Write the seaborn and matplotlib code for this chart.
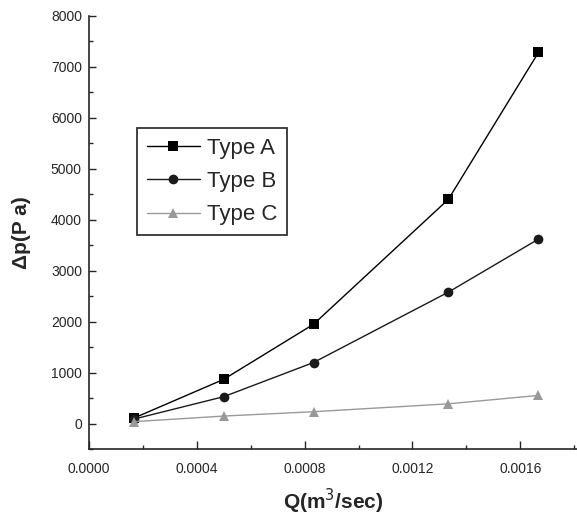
import numpy as np
import pandas as pd
import matplotlib
matplotlib.use('Agg')
import matplotlib.pyplot as plt
import seaborn as sns
from matplotlib.ticker import MultipleLocator, FormatStrFormatter

# 유량 (m^3/sec) 과 압력강하 (Pa)
flow = [0.0001667, 0.0005, 0.000833, 0.001333, 0.001667]
dp_a = [110, 870, 1950, 4400, 7280]
dp_b = [90, 530, 1200, 2580, 3620]
dp_c = [40, 150, 235, 390, 555]
types = ['Type A', 'Type B', 'Type C']

df = pd.DataFrame({
    'Q': flow * 3,
    'dp': dp_a + dp_b + dp_c,
    'type': [t for t in types for _ in flow],
})

sns.set_style('ticks')
plt.rcParams['font.family'] = ['Liberation Sans', 'DejaVu Sans']

fig = plt.figure(figsize=(5.77, 5.26), dpi=100)
ax = fig.add_axes([0.154, 0.146, 0.846, 0.824])

palette = {'Type A': 'black', 'Type B': '#1a1a1a', 'Type C': '#999999'}
markers = {'Type A': 's', 'Type B': 'o', 'Type C': '^'}
sns.lineplot(data=df, x='Q', y='dp', hue='type', style='type', palette=palette,
             markers=markers, dashes=False, markersize=7, linewidth=1,
             markeredgewidth=0, ax=ax)

ax.set_xlim(0, 0.00181)
ax.set_ylim(-500, 8000)
ax.xaxis.set_major_locator(MultipleLocator(0.0004))
ax.xaxis.set_minor_locator(MultipleLocator(0.0002))
ax.xaxis.set_major_formatter(FormatStrFormatter('%.4f'))
ax.yaxis.set_major_locator(MultipleLocator(1000))
ax.yaxis.set_minor_locator(MultipleLocator(500))
ax.tick_params(axis='x', which='major', direction='in', length=6, width=1, labelsize=10, pad=9)
ax.tick_params(axis='x', which='minor', direction='in', length=3, width=1)
ax.tick_params(axis='y', which='major', direction='in', length=5, width=1, labelsize=10, pad=5)
ax.tick_params(axis='y', which='minor', direction='in', length=3, width=1)
for s in ['top', 'right']:
    ax.spines[s].set_visible(False)
for s in ['left', 'bottom']:
    ax.spines[s].set_linewidth(1.2)

ax.set_xlabel('Q(m$^3$/sec)', fontsize=15, fontweight='bold', labelpad=8)
ax.set_ylabel('Δp(P a)', fontsize=15, fontweight='bold', labelpad=14)

leg = ax.legend(title=None, loc='upper left', bbox_to_anchor=(0.098, 0.741),
                fontsize=16, frameon=True, fancybox=False, edgecolor='black',
                handlelength=2.4, handletextpad=0.3, borderpad=0.45, labelspacing=0.55,
                borderaxespad=0)
leg.get_frame().set_linewidth(1.3)

fig.savefig('out.png', dpi=100)
